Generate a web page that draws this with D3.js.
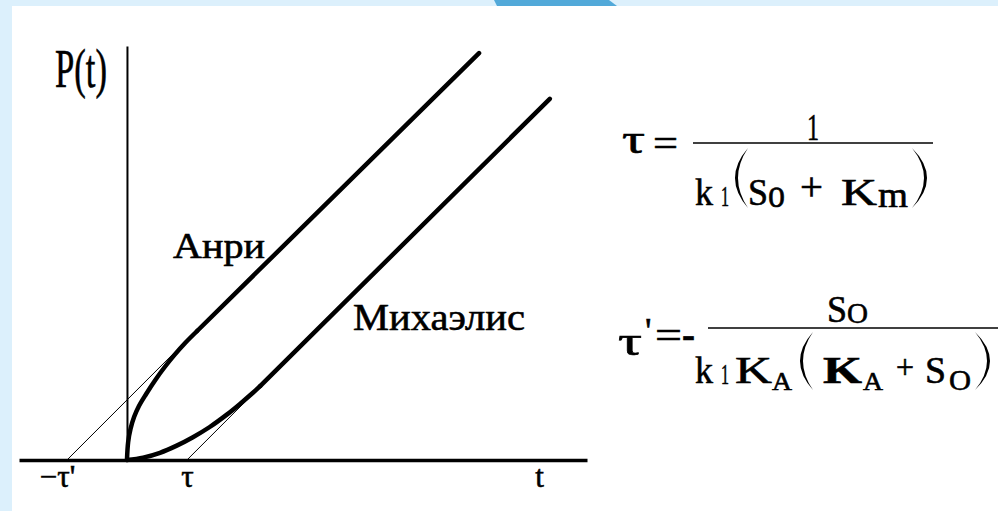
<!DOCTYPE html>
<html>
<head>
<meta charset="utf-8">
<script src="https://cdn.jsdelivr.net/npm/d3@7"></script>
<style>
body { margin: 0; background: #dcf0fc; }
</style>
</head>
<body>
<div id="chart"></div>
<script>
// curves, t and P in units of tau
var henri = [[0,0],[0.02,0.3],[0.06,0.52],[0.12,0.72],[0.2,0.9],[0.32,1.1],[0.47,1.33],[0.63,1.55],[0.8,1.76],[0.97,1.95],[1.17,2.15],[5.87,6.78]];
var michaelis = [[0,0],[0.27,0.04],[0.55,0.12],[0.83,0.24],[1.1,0.38],[1.38,0.55],[1.67,0.76],[1.88,0.93],[2.1,1.12],[2.22,1.23],[7.05,6.02]];
var henriTangent = [[-1,0],[1.05,2.05]];
var michTangent = [[1,0],[2.15,1.15]];
var tickVals = [-1, 1, 6.87];
var tickLabels = ["\u2212\u03c4'", "\u03c4", "t"];
var curveLabels = ["\u0410\u043d\u0440\u0438", "\u041c\u0438\u0445\u0430\u044d\u043b\u0438\u0441"];
var yLabel = "P(t)";

var W = 998, H = 511;
var FONT = "'Liberation Serif', 'DejaVu Serif', serif";
var svg = d3.select("#chart").append("svg").attr("width", W).attr("height", H).style("display", "block");

// slide frame
svg.append("rect").attr("width", W).attr("height", H).attr("fill", "#dcf0fc");
svg.append("rect").attr("x", 12).attr("y", 6).attr("width", W - 12).attr("height", H - 6).attr("fill", "#fff");
svg.append("polygon").attr("points", "494,0 609,0 617,6 497,6").attr("fill", "#52a9d9");

var x = d3.scaleLinear().domain([-1.8, 7.67]).range([19, 587]);
var y = d3.scaleLinear().domain([0, 6.9]).range([460, 46]);

var line = d3.line().x(function(d) { return x(d[0]); }).y(function(d) { return y(d[1]); });
var curve = d3.line().x(function(d) { return x(d[0]); }).y(function(d) { return y(d[1]); }).curve(d3.curveCatmullRom.alpha(0.5));

// axes
var xAxis = svg.append("g").attr("transform", "translate(0," + y(0) + ")")
	.call(d3.axisBottom(x).tickValues(tickVals).tickSize(0).tickSizeOuter(0)
		.tickFormat(function(d, i) { return tickLabels[i]; }));
xAxis.attr("font-family", FONT);
xAxis.select(".domain").attr("stroke", "#000").attr("stroke-width", 3.5);
xAxis.selectAll("text").attr("font-size", 31).attr("dy", 24).attr("font-family", FONT)
	.attr("stroke", "#000").attr("stroke-width", 0.6)
	.attr("dx", function(d, i) { return i == 0 ? -10 : 0; });

var yAxis = svg.append("g").attr("transform", "translate(" + x(0) + ",0)")
	.call(d3.axisLeft(y).tickValues([]).tickSizeOuter(0));
yAxis.select(".domain").attr("stroke", "#000").attr("stroke-width", 2);

// thin asymptotes
svg.append("path").datum(henriTangent).attr("d", line).attr("fill", "none").attr("stroke", "#000").attr("stroke-width", 1);
svg.append("path").datum(michTangent).attr("d", line).attr("fill", "none").attr("stroke", "#000").attr("stroke-width", 1);

// curves: bent part smooth, then the straight run to the last point
[henri, michaelis].forEach(function(c) {
	svg.append("path").datum(c.slice(0, -1)).attr("d", curve).attr("fill", "none").attr("stroke", "#000").attr("stroke-width", 4.5).attr("stroke-linecap", "round");
	svg.append("path").datum(c.slice(-2)).attr("d", line).attr("fill", "none").attr("stroke", "#000").attr("stroke-width", 4.5).attr("stroke-linecap", "round");
});

function put(s, px, py, size, w, bold) {
	var t = svg.append("text").attr("x", px).attr("y", py).attr("font-size", size)
		.attr("font-family", FONT).attr("fill", "#000")
		.attr("stroke", "#000").attr("stroke-width", 0.6).text(s);
	if (w) t.attr("textLength", w).attr("lengthAdjust", "spacingAndGlyphs");
	if (bold) t.attr("font-weight", "bold");
	return t;
}

put(yLabel, 55, 87, 54, 52);
put(curveLabels[0], 173, 258, 35, 92);
put(curveLabels[1], 353, 330, 38, 172);

// formulas
function paren(x0, x1, y0, y1) {
	// x0 = bulge side, x1 = tips side
	var m = (y0 + y1) / 2, s = x1 > x0 ? 1 : -1;
	var c1 = 2 * x0 - x1, c2 = 2 * (x0 + 3 * s) - x1;
	svg.append("path").attr("d", "M" + x1 + "," + y0 + "Q" + c1 + "," + m + " " + x1 + "," + y1 + "Q" + c2 + "," + m + " " + x1 + "," + y0 + "Z")
		.attr("fill", "#000");
}

put("\u03c4", 622, 153, 40, 23);
put("=", 653, 157, 40, 25);
put("1", 807, 140, 38, 12);
svg.append("line").attr("x1", 693).attr("x2", 933).attr("y1", 143).attr("y2", 143).attr("stroke", "#000").attr("stroke-width", 1.6);
put("k", 695, 205, 38, 18);
put("1", 721, 206, 30, 8);
paren(735, 748, 148, 208);
put("S", 748, 205, 38, 20);
put("o", 768, 207, 40, 17);
put("+", 800, 200, 40, 23);
put("K", 841, 205, 38, 36);
put("m", 878, 207, 36, 30);
paren(927, 912, 148, 208);

put("\u03c4", 618, 355, 40, 24);
put("'", 645, 343, 36);
put("=", 655, 349, 40, 27);
put("-", 682, 348, 40, 13, true);
put("S", 827, 322, 38, 20);
put("O", 847, 323, 30, 21);
svg.append("line").attr("x1", 708).attr("x2", 998).attr("y1", 328).attr("y2", 328).attr("stroke", "#000").attr("stroke-width", 1.6);
put("k", 695, 383, 38, 18);
put("1", 721, 384, 30, 8);
put("K", 735, 383, 38, 37);
put("A", 772, 390, 26, 20);
paren(800, 813, 332, 390);
put("K", 823, 383, 38, 39, true);
put("A", 863, 390, 26, 20);
put("+", 896, 378, 34, 18);
put("S", 925, 383, 38, 21);
put("O", 949, 390, 30, 22);
paren(990, 975, 332, 390);
</script>
</body>
</html>
